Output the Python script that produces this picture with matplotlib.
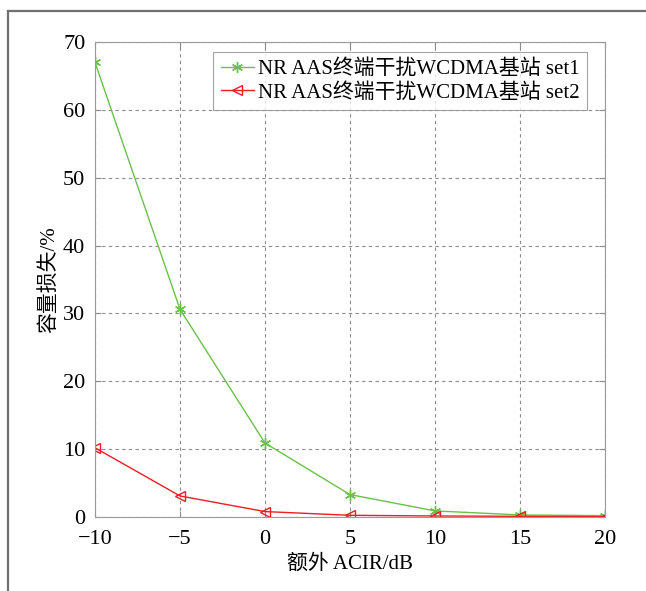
import numpy as np
import matplotlib
matplotlib.use("Agg")
from matplotlib import pyplot as plt
from matplotlib.lines import Line2D

plt.rcParams['font.family'] = ['Liberation Serif', 'Noto Sans CJK SC', 'DejaVu Sans']
plt.rcParams['axes.unicode_minus'] = True

# data
acir = [-10, -5, 0, 5, 10, 15, 20]
loss_set1 = [67.0, 30.6, 10.9, 3.3, 0.9, 0.3, 0.2]
loss_set2 = [10.2, 3.1, 0.8, 0.25, 0.15, 0.1, 0.05]
labels = ["NR AAS终端干扰WCDMA基站 set1", "NR AAS终端干扰WCDMA基站 set2"]
xticks = [-10, -5, 0, 5, 10, 15, 20]
yticks = [0, 10, 20, 30, 40, 50, 60, 70]

fig = plt.figure(figsize=(6.46, 5.91), dpi=100)
ax = fig.add_axes([95 / 646, 1 - 517 / 591, 510 / 646, 475 / 591])

ax.plot(acir, loss_set1, color="#6cc04a", marker=(6, 2, 0), markersize=8,
        markeredgewidth=1.0, markeredgecolor="#6cc04a", lw=1.0, label=labels[0])
ax.plot(acir, loss_set2, color="#f01c24", marker="<", markersize=7,
        markerfacecolor="none", markeredgecolor="#f01c24", lw=1.0, label=labels[1])

ax.set_xlim(-10, 20)
ax.set_ylim(0, 70)
ax.set_xticks(xticks)
ax.set_yticks(yticks)
ax.set_xticklabels([str(t).replace("-", "\u2212") for t in xticks])
ax.grid(True, linestyle=(0, (3, 3)), color="#8c8c8c", lw=0.8)
ax.tick_params(direction="in", top=True, right=True, labelsize=16, length=4,
               color="#8c8c8c")
ax.tick_params(axis="x", pad=9)
ax.tick_params(axis="y", pad=7)
for s in ax.spines.values():
    s.set_color("#9a9a9a")

ax.set_xlabel("额外 ACIR/dB", fontsize=15, labelpad=4)
ax.set_ylabel("容量损失/%", fontsize=15, labelpad=3)

leg = ax.legend(loc="upper right", bbox_to_anchor=(587 / 646, 1 - 52 / 591),
                bbox_transform=fig.transFigure,
                fontsize=15, frameon=True, fancybox=False,
                edgecolor="#8c8c8c", borderpad=0.35, labelspacing=0.2,
                handlelength=1.6, handletextpad=0.2, borderaxespad=0.0)
leg.get_frame().set_linewidth(0.8)

# outer frame of the figure (top and left edges)
fig.add_artist(Line2D([8 / 646, 1.0], [1 - 11 / 591, 1 - 11 / 591],
                      transform=fig.transFigure, color="#707070", lw=1.6))
fig.add_artist(Line2D([8 / 646, 8 / 646], [0.0, 1 - 11 / 591],
                      transform=fig.transFigure, color="#707070", lw=1.6))

fig.savefig("out.png", dpi=100)
